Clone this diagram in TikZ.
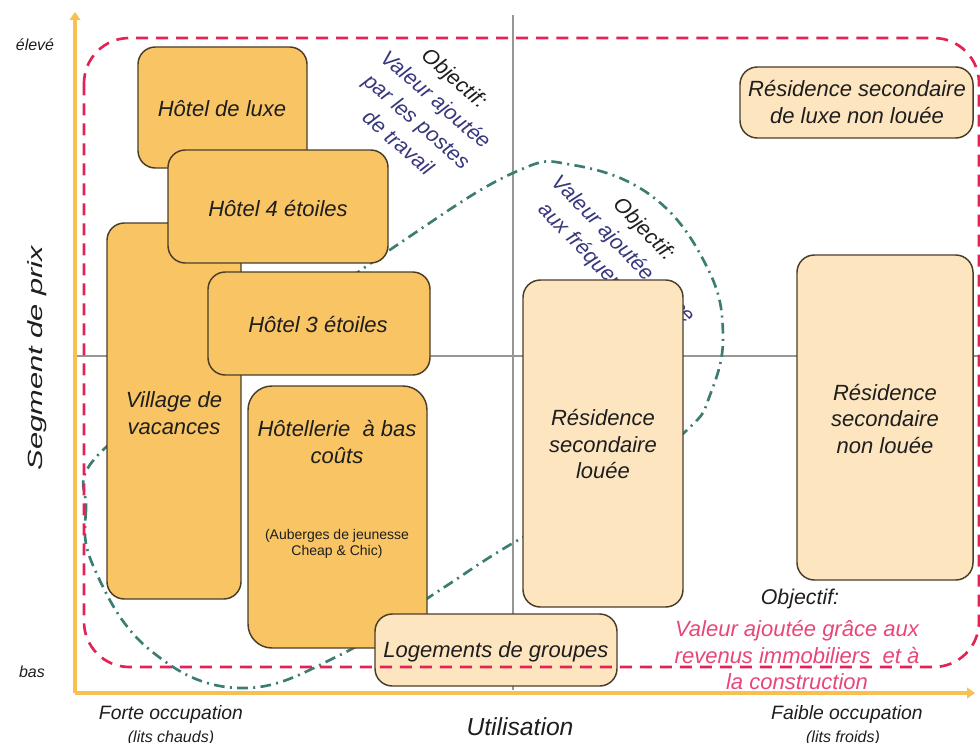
\documentclass[tikz,border=0pt]{standalone}
\usepackage{graphicx}
\usepackage{fontspec}
\setmainfont{Liberation Sans}
\usetikzlibrary{arrows.meta,fit}
\definecolor{boxdark}{RGB}{248,196,100}
\definecolor{boxlight}{RGB}{253,229,192}
\definecolor{axisor}{RGB}{248,192,80}
\definecolor{redd}{RGB}{228,35,85}
\definecolor{tealc}{RGB}{60,125,115}
\definecolor{navyc}{RGB}{55,55,125}
\definecolor{pinkc}{RGB}{232,70,120}
\definecolor{edgec}{RGB}{75,62,40}
\definecolor{txt}{RGB}{30,30,30}
\definecolor{grayl}{RGB}{150,150,150}
\begin{document}
\begin{tikzpicture}[x=0.75pt,y=-0.75pt,
  box/.style={draw=edgec, line width=1.1pt, rounded corners=13pt, inner sep=0pt},
  dark/.style={box, fill=boxdark},
  light/.style={box, fill=boxlight},
  btxt/.style={inner sep=0pt, align=center, font=\fontsize{16.5}{20}\selectfont\itshape, text=txt},
  obj/.style={font=\fontsize{16}{18}\selectfont\itshape, inner sep=0pt},
  objblock/.style={align=center, inner sep=0pt, font=\fontsize{16}{21.5}\selectfont\itshape, text=navyc},
  axlab/.style={font=\fontsize{12}{14}\selectfont\itshape, text=txt, inner sep=0pt},
  occ/.style={font=\fontsize{14.5}{16}\selectfont\itshape, text=txt, inner sep=0pt},
  occs/.style={font=\fontsize{12}{14}\selectfont\itshape, text=txt, inner sep=0pt},
  quad/.style={draw=grayl, line width=0.8pt},
  axis/.style={draw=axisor, line width=2.4pt, -{Triangle[width=8pt,length=6pt]}},
  teald/.style={draw=tealc, line width=2pt, dash pattern=on 8pt off 4pt on 1.5pt off 4pt},
  redd/.style={draw=redd, line width=2pt, dash pattern=on 9pt off 6pt},
]
\useasboundingbox (0,0) rectangle (980,742);

% quadrant lines
\coordinate (vt) at (513,15);
\coordinate (vb) at (513,690);
\coordinate (hl) at (75,356);
\coordinate (hr) at (980,356);
\draw[quad] (vt) -- (vb);
\draw[quad] (hl) -- (hr);

% axes
\coordinate (org) at (75,693);
\coordinate (ytop) at (75,12);
\coordinate (xend) at (975,693);
\draw[axis] (org) -- (ytop);
\draw[axis] (org) -- (xend);

% teal dash-dot loop
\draw[teald] plot[smooth cycle, tension=0.7] coordinates {
  (103,450) (86,510) (95,570) (150,650) (240,688) (340,655) (437,592) (513,543)
  (610,490) (687,430) (710,395) (723,335) (707,267) (653,197) (573,165) (513,173)
  (400,243) (250,350)};

% objective texts (top-left and middle)
\node[objblock, rotate=-41] (oa) at (427,110)
  {\textcolor{txt}{Objectif:}\\Valeur ajoutée\\par les postes\\de travail};
\node[objblock, rotate=-46] (ob) at (623,250)
  {\textcolor{txt}{Objectif:}\\Valeur ajoutée grâce\\aux fréquentations};

% boxes
\node[dark, fit={(138,47) (307,168)}] (luxe) {};
\node[btxt] (luxet) at (222,109) {Hôtel de luxe};
\node[dark, fit={(107,223) (241,599)}] (village) {};
\node[btxt] (villaget) at (174,413) {Village de\\vacances};
\node[dark, fit={(168,150) (388,263)}] (h4) {};
\node[btxt] (h4t) at (278,209) {Hôtel 4 étoiles};
\node[dark, fit={(208,272) (430,375)}] (h3) {};
\node[btxt] (h3t) at (318,325) {Hôtel 3 étoiles};
\node[dark, fit={(248,386) (427,648)}, rounded corners=18pt] (lowcost) {};
\node[btxt] (lowcostt) at (337,442) {Hôtellerie\ \ à bas\\coûts};
\node[font=\fontsize{10.5}{12}\selectfont, text=txt, align=center, inner sep=0pt] (lowcosts) at (337,544) {(Auberges de jeunesse\\Cheap \& Chic)};
\node[light, fit={(523,280) (683,607)}] (louee) {};
\node[btxt] (loueet) at (603,444) {Résidence\\secondaire\\louée};
\node[light, fit={(797,255) (973,580)}] (nonlouee) {};
\node[btxt] (nonloueet) at (885,419) {Résidence\\secondaire\\non louée};
\node[light, fit={(740,67) (973,138)}] (luxenl) {};
\node[btxt] (luxenlt) at (857,102) {Résidence\ secondaire\\de luxe\ non louée};
\node[light, fit={(375,614) (617,686)}] (groupes) {};
\node[btxt] (groupest) at (496,652) {Logements\ de\ groupes};

% red dashed region
\draw[redd, rounded corners=34pt] (84,38) rectangle (979,667);

% bottom-right objective
\node[obj, text=txt] (oc1) at (800,599) {Objectif:};
\node[obj, text=pinkc, align=center, font=\fontsize{16.5}{19.7}\selectfont\itshape] (oc2) at (797,655)
  {Valeur ajoutée grâce aux\\revenus immobiliers\ \ et à\\la construction};

% axis labels
\node[axlab] (hi) at (35,45) {élevé};
\node[axlab] (lo) at (32,672) {bas};
\node[rotate=90, font=\fontsize{15.4}{18}\selectfont\itshape, text=txt, inner sep=0pt] (ylab) at (37,358)
  {\scalebox{1.5}[1]{Segment de prix}};
\node[font=\fontsize{18.5}{22}\selectfont\itshape, text=txt, inner sep=0pt] (xlab) at (520,727) {Utilisation};
\node[occ] (forte) at (171,714) {Forte occupation};
\node[occs] (fortes) at (171,738) {(lits chauds)};
\node[occ] (faible) at (847,714) {Faible occupation};
\node[occs] (faibles) at (843,738) {(lits froids)};
\end{tikzpicture}
\end{document}
